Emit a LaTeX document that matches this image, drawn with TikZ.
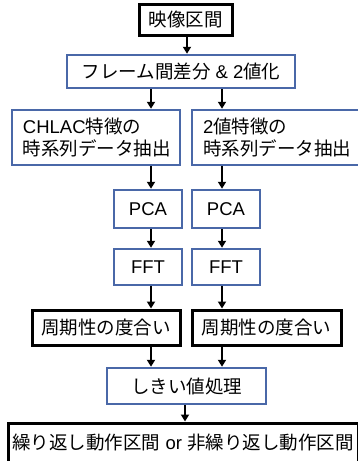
\documentclass[tikz,border=0pt]{standalone}
\usepackage{fontspec}
\setmainfont{Liberation Sans}
\newfontfamily\cjk{Noto Sans CJK JP}
\usetikzlibrary{arrows.meta}
\definecolor{boxblue}{HTML}{4A68A8}
\tikzset{
  every node/.style={font=\fontsize{18.5}{22}\selectfont},
  bbox/.style={draw=black, line width=3pt, fill=white, inner sep=0pt, align=center},
  ubox/.style={draw=boxblue, line width=2.5pt, fill=white, inner sep=0pt, align=center},
  lbox/.style={ubox, align=left, text width=#1, inner xsep=11pt},
  arr/.style={line width=2pt, -{Triangle[length=7pt,width=8pt]}},
}
\begin{document}
\begin{tikzpicture}[x=1pt,y=-1pt]
\useasboundingbox (0,0) rectangle (358,461);
\clip (0,0) rectangle (358,461);
\node[bbox, minimum width=93pt, minimum height=31pt] (top) at (185.5,19.5) {\cjk 映像区間};
\node[ubox, minimum width=228pt, minimum height=33pt] (frame) at (181,71.5) {{\cjk フレーム間差分} \& 2{\cjk 値化}};
\node[lbox=146pt, minimum width=168pt, minimum height=55pt] (featL) at (96,137.5) {CHLAC{\cjk 特徴の}\\{\cjk 時系列データ抽出}};
\node[lbox=151pt, minimum width=173pt, minimum height=55pt] (featR) at (278.5,137.5) {2{\cjk 値特徴の}\\{\cjk 時系列データ抽出}};
\node[ubox, minimum width=68pt, minimum height=38pt] (pcaL) at (148,209) {PCA};
\node[ubox, minimum width=68pt, minimum height=38pt] (pcaR) at (226,209) {PCA};
\node[ubox, minimum width=68pt, minimum height=36pt] (fftL) at (148,267) {FFT};
\node[ubox, minimum width=68pt, minimum height=36pt] (fftR) at (226,267) {FFT};
\node[bbox, minimum width=148pt, minimum height=35pt] (perL) at (106,327.5) {\cjk 周期性の度合い};
\node[bbox, minimum width=149pt, minimum height=35pt] (perR) at (266.5,327.5) {\cjk 周期性の度合い};
\node[ubox, minimum width=159pt, minimum height=36pt] (thr) at (186.5,386) {\cjk しきい値処理};
\node[bbox, minimum width=350pt, minimum height=40pt] (res) at (183,443) {{\cjk 繰り返し動作区間} or {\cjk 非繰り返し動作区間}};
\coordinate (cl) at (151,0);
\coordinate (cr) at (222,0);
\coordinate (cm) at (187,0);
\coordinate (cb) at (185,0);
\draw[arr] (top.south -| cm) -- (frame.north -| cm);
\draw[arr] (frame.south -| cl) -- (featL.north -| cl);
\draw[arr] (frame.south -| cr) -- (featR.north -| cr);
\draw[arr] (featL.south -| cl) -- (pcaL.north -| cl);
\draw[arr] (featR.south -| cr) -- (pcaR.north -| cr);
\draw[arr] (pcaL.south -| cl) -- (fftL.north -| cl);
\draw[arr] (pcaR.south -| cr) -- (fftR.north -| cr);
\draw[arr] (fftL.south -| cl) -- (perL.north -| cl);
\draw[arr] (fftR.south -| cr) -- (perR.north -| cr);
\draw[arr] (perL.south -| cl) -- (thr.north -| cl);
\draw[arr] (perR.south -| cr) -- (thr.north -| cr);
\draw[arr] (thr.south -| cb) -- (res.north -| cb);
\end{tikzpicture}
\end{document}
